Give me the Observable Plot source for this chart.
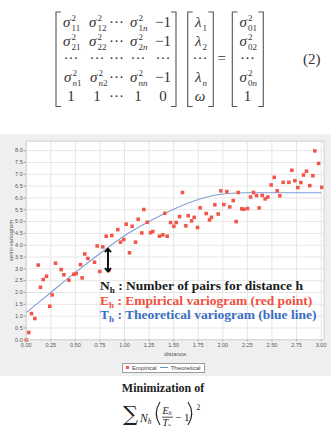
<!DOCTYPE html>
<html><head><meta charset="utf-8">
<script src="https://cdn.jsdelivr.net/npm/d3@7"></script>
<script src="https://cdn.jsdelivr.net/npm/@observablehq/plot@0.6"></script>
<style>
html,body{margin:0;padding:0;background:#fff;}
body{position:relative;width:331px;height:426px;overflow:hidden;}
svg{display:block;}
#eq{position:absolute;left:0;top:0;}
#panel{position:absolute;left:0;top:134px;width:331px;height:242px;background:#efefef;}
#chart{position:absolute;left:0;top:0;}
#legend{position:absolute;left:121.5px;top:228.5px;width:83.5px;height:10.5px;box-sizing:border-box;border:1px solid #9c9c9c;background:#fff;display:flex;align-items:center;font:6px "Liberation Sans",Arial,sans-serif;color:#444;white-space:nowrap;}
#legend .sq{width:3px;height:3px;background:#f25548;margin:0 3px 0 3.5px;}
#legend .ln{width:8px;height:0;border-top:1px solid #6b8fcf;margin:0 3px 0 3px;}
#bottom{position:absolute;left:0;top:376px;}
</style></head><body>
<svg id="eq" width="331" height="134"></svg>
<div id="panel"><div id="chart"></div>
<div id="legend"><span class="sq"></span><span>Empirical</span><span class="ln"></span><span>Theoretical</span></div></div>
<svg id="bottom" width="331" height="50"></svg>
<script>
// ---------- data ----------
const empiricalX = [0.003,0.026,0.054,0.088,0.122,0.145,0.173,0.207,0.24,0.264,0.298,0.356,0.383,0.434,0.484,0.508,0.552,0.569,0.596,0.627,0.695,0.722,0.749,0.779,0.814,0.841,0.871,0.932,0.959,0.993,1.017,1.051,1.078,1.112,1.139,1.176,1.197,1.231,1.265,1.288,1.356,1.39,1.41,1.434,1.468,1.502,1.526,1.56,1.59,1.624,1.648,1.682,1.709,1.743,1.77,1.831,1.865,1.885,1.919,1.953,1.98,2.01,2.041,2.071,2.106,2.136,2.157,2.193,2.214,2.251,2.282,2.312,2.343,2.37,2.401,2.431,2.458,2.492,2.523,2.553,2.58,2.614,2.672,2.702,2.733,2.763,2.794,2.821,2.851,2.885,2.916,2.936,2.974,3.007];
const empiricalY = [0.0,0.31,1.11,0.9,3.16,2.22,2.55,2.69,1.42,1.9,3.24,2.97,2.75,2.52,2.77,2.8,3.18,2.62,3.63,3.44,3.28,3.97,2.89,3.93,4.38,2.93,4.41,4.66,4.13,4.24,4.89,3.68,4.8,4.13,5.1,4.52,5.51,4.97,4.53,4.58,4.38,4.44,5.35,4.38,4.96,4.8,4.96,5.21,6.23,4.82,5.25,5.03,5.18,4.75,5.58,5.34,5.07,5.18,5.71,5.32,6.3,5.72,6.27,5.62,5.89,5.0,6.23,5.54,5.52,5.55,6.04,6.23,6.1,5.58,6.11,5.96,6.04,6.55,6.87,6.3,6.09,6.66,6.66,7.17,6.73,6.44,6.65,6.97,7.13,6.52,6.94,7.99,7.46,6.45];
const theoreticalX = [0,0.25,0.5,0.75,1.0,1.25,1.5,1.75,2.0,2.25,2.5,2.75,3.0];
const theoreticalY = [1.15,2.0,2.85,3.65,4.4,5.0,5.52,5.93,6.17,6.22,6.22,6.22,6.22];
const xTicks = [0,0.25,0.5,0.75,1,1.25,1.5,1.75,2,2.25,2.5,2.75,3];
const yTicks = [0,0.5,1,1.5,2,2.5,3,3.5,4,4.5,5,5.5,6,6.5,7,7.5,8];
const arrowX = 0.832, arrowTop = 3.85, arrowBottom = 2.89;
const annSymbols = ["N","E","T"];
const annTexts = ["Number of pairs for distance h","Empirical variogram (red point)","Theoretical variogram (blue line)"];
const annColors = ["#1a1a1a","#f0503f","#3c6ec4"];
const annX = 0.756, annY = [2.08, 1.45, 0.86];

const empirical = empiricalX.map((x,i)=>({x, y: empiricalY[i]}));
const theoretical = theoreticalX.map((x,i)=>({x, y: theoreticalY[i]}));
const arrowMid = (arrowTop + arrowBottom) / 2;
const arrows = [{x: arrowX, y1: arrowMid, y2: arrowTop}, {x: arrowX, y1: arrowMid, y2: arrowBottom}];

// ---------- chart ----------
const chart = Plot.plot({
  width: 331, height: 228,
  marginLeft: 25.7, marginRight: 7.45, marginTop: 6.7, marginBottom: 22.7,
  style: {background: "transparent", fontFamily: "'Liberation Sans', Arial, sans-serif", fontSize: "5.5px", color: "#555", overflow: "visible"},
  x: {domain: [0, 3.03]},
  y: {domain: [0, 8.4]},
  marks: [
    Plot.frame({fill: "white", stroke: null}),
    Plot.gridX(xTicks, {stroke: "#e6e6e6", strokeOpacity: 1}),
    Plot.gridY(yTicks, {stroke: "#e6e6e6", strokeOpacity: 1}),
    Plot.axisX(xTicks, {tickFormat: d => d.toFixed(2), tickSize: 2, tickPadding: 1.5, stroke: "#999", fill: "#555", label: "distance", labelAnchor: "center", labelOffset: 16, labelArrow: "none"}),
    Plot.axisY(yTicks, {tickFormat: d => d.toFixed(1), tickSize: 2, tickPadding: 1.5, stroke: "#999", fill: "#555", label: "semi-variogram", labelAnchor: "center", labelOffset: 17, labelArrow: "none"}),
    Plot.line(theoretical, {x: "x", y: "y", stroke: "#7d9fd6", strokeWidth: 1.1, curve: "monotone-x"}),
    Plot.dot(empirical, {x: "x", y: "y", symbol: "square", fill: "#f25548", r: 2}),
    Plot.arrow(arrows, {x1: "x", x2: "x", y1: "y1", y2: "y2", stroke: "#111", strokeWidth: 2, headLength: 7, headAngle: 85}),
    Plot.frame({stroke: "#d2d2d2"})
  ]
});
document.getElementById("chart").appendChild(chart);
d3.select(chart).selectAll('[aria-label$="axis label"] text, [aria-label$="axis label"]').attr("font-size", 6);

const sx = chart.scale("x"), sy = chart.scale("y");
const ann = d3.select(chart).append("g")
  .attr("font-family", "'Liberation Serif', 'Times New Roman', serif")
  .attr("text-anchor", "start")
  .attr("font-weight", "bold").attr("font-size", 13.5);
annSymbols.forEach((s, i) => {
  const t = ann.append("text").attr("text-anchor", "start").attr("x", sx.apply(annX)).attr("y", sy.apply(annY[i])).attr("fill", annColors[i]);
  t.append("tspan").text(s);
  t.append("tspan").attr("font-size", 9).attr("dy", 3).text("h");
  t.append("tspan").attr("dy", -3).text(" : " + annTexts[i]);
});

// ---------- equation (top) ----------
const eq = d3.select("#eq").append("g")
  .attr("font-family", "'Liberation Serif', 'Times New Roman', serif")
  .attr("font-size", 15).attr("fill", "#333");
const rowsY = [27, 46, 63, 82, 101];
const m1Cols = [71, 97, 116.5, 138, 163];
function scripted(g, c, y, base, sup, sub, subItalic) {
  g.append("text").attr("x", c - 0.5).attr("y", y).attr("text-anchor", "end").attr("font-style", "italic").text(base);
  if (sup) g.append("text").attr("x", c + 0.5).attr("y", y - 6.5).attr("font-size", 9).text(sup);
  const s = g.append("text").attr("x", c + 0.5).attr("y", y + 4).attr("font-size", 9);
  s.append("tspan").text(sub[0]);
  if (sub.length > 1) s.append("tspan").attr("font-style", subItalic ? "italic" : "normal").text(sub.slice(1));
}
function plain(g, c, y, txt, italic) {
  g.append("text").attr("x", c).attr("y", y).attr("text-anchor", "middle").attr("font-style", italic ? "italic" : "normal").text(txt);
}
const dots = "···";
const m1RowIdx = ["1", "2", null, "n", "last"];
m1RowIdx.forEach((r, ri) => {
  const y = rowsY[ri];
  if (r === null) { m1Cols.forEach(c => plain(eq, c, y, dots)); return; }
  if (r === "last") { ["1","1",dots,"1","0"].forEach((t, ci) => plain(eq, m1Cols[ci], y, t)); return; }
  const it = r === "n";
  if (it) {
    scripted(eq, m1Cols[0] + 1, y, "σ", "2", "n1", false);
    scripted(eq, m1Cols[1] + 1, y, "σ", "2", "n2", false);
    plain(eq, m1Cols[2], y, dots);
    scripted(eq, m1Cols[3], y, "σ", "2", "nn", false);
  } else {
    scripted(eq, m1Cols[0], y, "σ", "2", r + "1", false);
    scripted(eq, m1Cols[1], y, "σ", "2", r + "2", false);
    plain(eq, m1Cols[2], y, dots);
    scripted(eq, m1Cols[3], y, "σ", "2", r + "n", true);
  }
  plain(eq, m1Cols[4], y, "−1");
});
// matrix 2
const c2 = 200;
scripted(eq, c2 + 2, rowsY[0], "λ", null, "1");
scripted(eq, c2 + 2, rowsY[1], "λ", null, "2");
plain(eq, c2, rowsY[2], dots);
scripted(eq, c2 + 2, rowsY[3], "λ", null, "n");
plain(eq, c2, rowsY[4], "ω", true);
// matrix 3
const c3 = 247.5;
scripted(eq, c3, rowsY[0], "σ", "2", "01");
scripted(eq, c3, rowsY[1], "σ", "2", "02");
plain(eq, c3, rowsY[2], dots);
scripted(eq, c3, rowsY[3], "σ", "2", "0n", true);
plain(eq, c3, rowsY[4], "1");
plain(eq, 221.7, 63, "=");
eq.append("text").attr("x", 303).attr("y", 64).text("(2)");
const brackets = [[56, 176], [187.7, 213.3], [232.3, 263.3]];
const bT = 12, bB = 106.5, bw = 5;
brackets.forEach(([L, R]) => {
  eq.append("path").attr("d", `M${L+bw},${bT}H${L}V${bB}H${L+bw}M${R-bw},${bT}H${R}V${bB}H${R-bw}`)
    .attr("fill", "none").attr("stroke", "#555").attr("stroke-width", 1.1);
});
eq.selectAll("tspan").filter(function(){ return this.textContent === "n" || this.textContent === "nn"; }).attr("font-style", "italic");

// ---------- bottom formula ----------
const bt = d3.select("#bottom").append("g").attr("font-family", "'Liberation Serif', 'Times New Roman', serif").attr("fill", "#222");
bt.append("text").attr("x", 163).attr("y", 15.7).attr("text-anchor", "middle").attr("font-weight", "bold").attr("font-size", 12).text("Minimization of");
bt.append("text").attr("x", 123).attr("y", 44.5).attr("font-family", "'DejaVu Serif', serif").attr("font-size", 21).text("∑");
const nh = bt.append("text").attr("x", 140).attr("y", 45.5).attr("font-size", 11.5).attr("font-style", "italic");
nh.append("tspan").text("N"); nh.append("tspan").attr("font-size", 7.5).attr("dy", 2).text("h");
bt.append("path").attr("d", "M160,26 Q152.5,37.5 160,49").attr("fill", "none").attr("stroke", "#222").attr("stroke-width", 1.1);
bt.append("path").attr("d", "M188,26 Q195.5,37.5 188,49").attr("fill", "none").attr("stroke", "#222").attr("stroke-width", 1.1);
const eh = bt.append("text").attr("x", 162.5).attr("y", 37.5).attr("font-size", 10).attr("font-style", "italic");
eh.append("tspan").text("E"); eh.append("tspan").attr("font-size", 6.5).attr("dy", 1.5).text("h");
bt.append("path").attr("d", "M162,41.2H173").attr("stroke", "#222").attr("stroke-width", 0.8);
const th = bt.append("text").attr("x", 162.5).attr("y", 50).attr("font-size", 10).attr("font-style", "italic");
th.append("tspan").text("T"); th.append("tspan").attr("font-size", 6.5).attr("dy", 1.5).text("h");
bt.append("text").attr("x", 175).attr("y", 45).attr("font-size", 11).text("− 1");
bt.append("text").attr("x", 196.5).attr("y", 34).attr("font-size", 7.5).text("2");
</script>
</body></html>
